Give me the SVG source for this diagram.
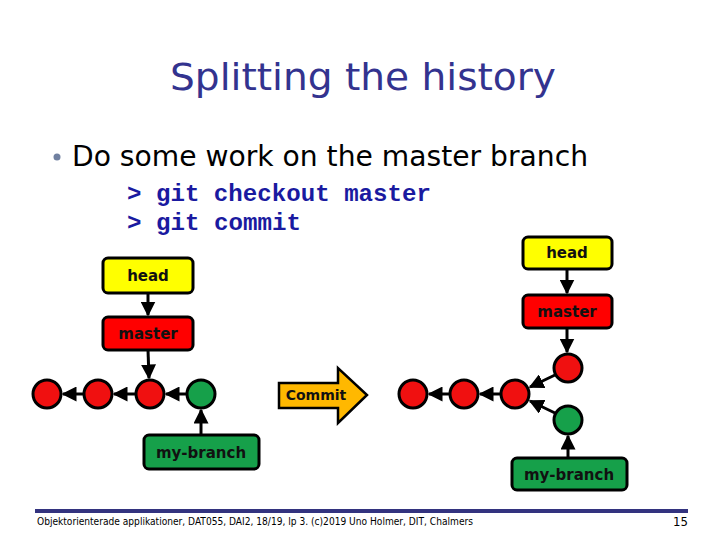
<svg xmlns="http://www.w3.org/2000/svg" width="720" height="540" viewBox="0 0 720 540">
<style>
.title{font-family:"DejaVu Sans Condensed","DejaVu Sans",sans-serif;font-size:38px;fill:#33338f}
.body{font-family:"DejaVu Sans Condensed","DejaVu Sans",sans-serif;font-size:28px;fill:#000}
.cmd{font-family:"Liberation Mono",monospace;font-size:24px;font-weight:bold;fill:#1a1aa0}
.box{stroke:#000;stroke-width:3}
.lbl{font-family:"DejaVu Sans","Liberation Sans",sans-serif;font-weight:bold;font-size:15px;fill:#111;text-anchor:middle}
.red{fill:#f01010;stroke:#000;stroke-width:3}
.grn{fill:#16a04a;stroke:#000;stroke-width:3}
.con{stroke:#000;stroke-width:3;fill:none;marker-end:url(#ah)}
.foot{font-family:"DejaVu Sans Condensed","Liberation Sans Narrow",sans-serif;font-size:10px;fill:#000}
</style>
<defs>
<marker id="ah" markerWidth="5" markerHeight="5" refX="4.5" refY="2.5" orient="auto" markerUnits="strokeWidth">
<path d="M0,0 L5,2.5 L0,5 Z" fill="#000"/>
</marker>
</defs>
<rect width="720" height="540" fill="#fff"/>
<text class="title" x="363" y="90" text-anchor="middle" textLength="386" lengthAdjust="spacingAndGlyphs">Splitting the history</text>
<circle cx="57" cy="157" r="3.5" fill="#7080a0"/>
<text class="body" x="72" y="166" textLength="516" lengthAdjust="spacingAndGlyphs">Do some work on the master branch</text>
<text class="cmd" x="127" y="201" textLength="304" lengthAdjust="spacingAndGlyphs">&gt; git checkout master</text>
<text class="cmd" x="127" y="230" textLength="174" lengthAdjust="spacingAndGlyphs">&gt; git commit</text>

<g id="connectors">
<line class="con" x1="148" y1="293" x2="148" y2="315"/>
<line class="con" x1="148" y1="350" x2="149" y2="378"/>
<line class="con" x1="84" y1="394" x2="63" y2="394"/>
<line class="con" x1="136" y1="394" x2="114" y2="394"/>
<line class="con" x1="187" y1="394" x2="166" y2="394"/>
<line class="con" x1="201" y1="435" x2="201" y2="410"/>
<line class="con" x1="567" y1="269" x2="567" y2="293"/>
<line class="con" x1="567" y1="328" x2="567" y2="352"/>
<line class="con" x1="450" y1="394" x2="429" y2="394"/>
<line class="con" x1="501" y1="394" x2="480" y2="394"/>
<line class="con" x1="555" y1="375" x2="530" y2="387"/>
<line class="con" x1="555" y1="413" x2="530" y2="401"/>
<line class="con" x1="568" y1="458" x2="568" y2="436"/>
</g>

<g id="commit-arrow">
<polygon points="279,383 338,383 338,368 367,395 338,423 338,408 279,408" fill="#ffb800" stroke="#000" stroke-width="2.5"/>
<text class="lbl" x="316" y="400" style="font-size:14px">Commit</text>
</g>

<g id="left-head"><rect class="box" x="103" y="258" width="90" height="35" rx="5" fill="#ffff00"/><text class="lbl" x="148" y="281">head</text></g>
<g id="left-master"><rect class="box" x="103" y="317" width="90" height="33" rx="5" fill="#ff0000"/><text class="lbl" x="148" y="339">master</text></g>
<g id="left-c1"><circle class="red" cx="47" cy="394" r="14"/></g>
<g id="left-c2"><circle class="red" cx="98" cy="394" r="14"/></g>
<g id="left-c3"><circle class="red" cx="150" cy="394" r="14"/></g>
<g id="left-c4"><circle class="grn" cx="201" cy="394" r="14"/></g>
<g id="left-mybranch"><rect class="box" x="144" y="435" width="115" height="34" rx="5" fill="#16a04a"/><text class="lbl" x="201" y="458">my-branch</text></g>

<g id="right-head"><rect class="box" x="523" y="237" width="89" height="32" rx="5" fill="#ffff00"/><text class="lbl" x="567" y="258">head</text></g>
<g id="right-master"><rect class="box" x="523" y="295" width="89" height="33" rx="5" fill="#ff0000"/><text class="lbl" x="567" y="317">master</text></g>
<g id="right-c1"><circle class="red" cx="413" cy="394" r="14"/></g>
<g id="right-c2"><circle class="red" cx="464" cy="394" r="14"/></g>
<g id="right-c3"><circle class="red" cx="515" cy="394" r="14"/></g>
<g id="right-c4"><circle class="red" cx="568" cy="368" r="14"/></g>
<g id="right-c5"><circle class="grn" cx="568" cy="420" r="14"/></g>
<g id="right-mybranch"><rect class="box" x="512" y="458" width="115" height="32" rx="5" fill="#16a04a"/><text class="lbl" x="569" y="480">my-branch</text></g>

<rect x="35" y="509" width="653" height="4" fill="#33337f"/>
<text class="foot" x="37" y="525" textLength="436" lengthAdjust="spacingAndGlyphs">Objektorienterade applikationer, DAT055, DAI2, 18/19, lp 3. (c)2019 Uno Holmer, DIT, Chalmers</text>
<text class="foot" x="688" y="526" text-anchor="end" style="font-size:13px">15</text>
</svg>
